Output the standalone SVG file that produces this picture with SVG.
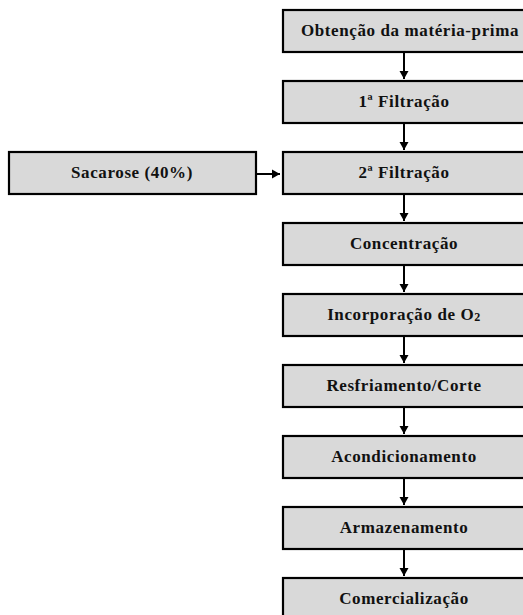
<svg xmlns="http://www.w3.org/2000/svg" width="523" height="615" viewBox="0 0 523 615">
  <style>
    .box { fill: #d9d9d9; stroke: #000; stroke-width: 2.2; }
    .lbl { font-family: 'Liberation Serif', 'Times New Roman', serif; font-weight: bold; font-size: 17px; letter-spacing: 0.6px; fill: #111; text-anchor: middle; }
    .edge { stroke: #000; stroke-width: 2; fill: none; }
  </style>
  <defs>
    <marker id="arrow" markerWidth="10" markerHeight="10" refX="8" refY="5" orient="auto" markerUnits="userSpaceOnUse">
      <path d="M0,0.5 L8,5 L0,9.5 Z" fill="#000"/>
    </marker>
  </defs>
  <rect width="523" height="615" fill="#fff"/>

  <g id="connectors">
    <line class="edge" x1="404" y1="52" x2="404" y2="79" marker-end="url(#arrow)"/>
    <line class="edge" x1="404" y1="123" x2="404" y2="150" marker-end="url(#arrow)"/>
    <line class="edge" x1="404" y1="194" x2="404" y2="221" marker-end="url(#arrow)"/>
    <line class="edge" x1="404" y1="265" x2="404" y2="292" marker-end="url(#arrow)"/>
    <line class="edge" x1="404" y1="336" x2="404" y2="363" marker-end="url(#arrow)"/>
    <line class="edge" x1="404" y1="407" x2="404" y2="434" marker-end="url(#arrow)"/>
    <line class="edge" x1="404" y1="478" x2="404" y2="505" marker-end="url(#arrow)"/>
    <line class="edge" x1="404" y1="549" x2="404" y2="576" marker-end="url(#arrow)"/>
    <line class="edge" x1="256" y1="174" x2="280" y2="174" marker-end="url(#arrow)"/>
  </g>

  <g id="n1">
    <rect class="box" x="283" y="10" width="245" height="42"/>
    <text class="lbl" x="410" y="36">Obtenção da matéria-prima</text>
  </g>
  <g id="n2">
    <rect class="box" x="283" y="81" width="245" height="42"/>
    <text class="lbl" x="404" y="107">1ª Filtração</text>
  </g>
  <g id="n3">
    <rect class="box" x="283" y="152" width="245" height="42"/>
    <text class="lbl" x="404" y="178">2ª Filtração</text>
  </g>
  <g id="n4">
    <rect class="box" x="283" y="223" width="245" height="42"/>
    <text class="lbl" x="404" y="249">Concentração</text>
  </g>
  <g id="n5">
    <rect class="box" x="283" y="294" width="245" height="42"/>
    <text class="lbl" x="404" y="320">Incorporação de O<tspan font-size="12" dy="1">2</tspan></text>
  </g>
  <g id="n6">
    <rect class="box" x="283" y="365" width="245" height="42"/>
    <text class="lbl" x="404" y="391">Resfriamento/Corte</text>
  </g>
  <g id="n7">
    <rect class="box" x="283" y="436" width="245" height="42"/>
    <text class="lbl" x="404" y="462">Acondicionamento</text>
  </g>
  <g id="n8">
    <rect class="box" x="283" y="507" width="245" height="42"/>
    <text class="lbl" x="404" y="533">Armazenamento</text>
  </g>
  <g id="n9">
    <rect class="box" x="283" y="578" width="245" height="42"/>
    <text class="lbl" x="404" y="604">Comercialização</text>
  </g>
  <g id="sacarose">
    <rect class="box" x="9" y="152" width="247" height="42"/>
    <text class="lbl" x="132" y="178">Sacarose (40%)</text>
  </g>
</svg>
